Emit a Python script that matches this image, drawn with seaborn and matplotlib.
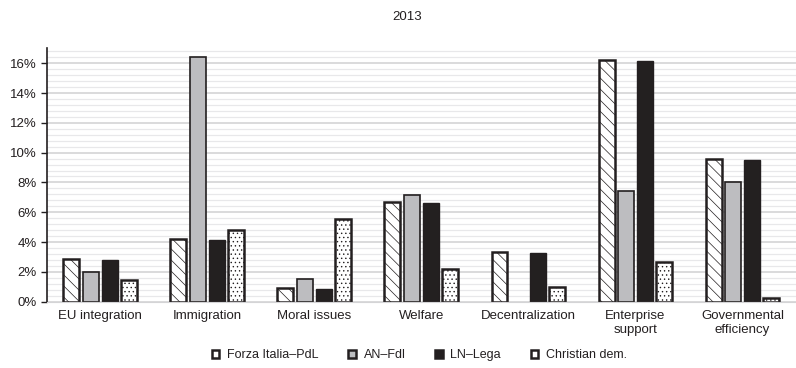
import matplotlib
matplotlib.use("Agg")
import matplotlib.pyplot as plt
import seaborn as sns
import pandas as pd
import numpy as np
from matplotlib.ticker import MultipleLocator, PercentFormatter
from matplotlib.patches import Patch

categories = ["EU integration", "Immigration", "Moral issues", "Welfare",
              "Decentralization", "Enterprise\nsupport", "Governmental\nefficiency"]
parties = ["Forza Italia–PdL", "AN–Fdl", "LN–Lega", "Christian dem."]
forza_italia = [2.86, 4.2, 0.92, 6.66, 3.33, 16.2, 9.54]
an_fdl = [1.97, 16.42, 1.52, 7.17, 0.0, 7.42, 8.02]
ln_lega = [2.82, 4.17, 0.88, 6.62, 3.29, 16.15, 9.5]
christian_dem = [1.45, 4.8, 5.52, 2.17, 1.0, 2.64, 0.23]
title = "2013"

sns.set_style("white")
plt.rcParams["font.family"] = ["Liberation Sans", "DejaVu Sans"]
plt.rcParams["hatch.linewidth"] = 0.5

rows = []
for p, vals in zip(parties, [forza_italia, an_fdl, ln_lega, christian_dem]):
    for c, v in zip(categories, vals):
        rows.append({"cat": c, "party": p, "val": v})
df = pd.DataFrame(rows)

fills = {"Forza Italia–PdL": "white", "AN–Fdl": "#bcbdc0",
         "LN–Lega": "#231f20", "Christian dem.": "white"}
hatches = {"Forza Italia–PdL": "\\\\\\", "AN–Fdl": "",
           "LN–Lega": "", "Christian dem.": "...."}
widths = {"Forza Italia–PdL": 1.8, "AN–Fdl": 1.2,
          "LN–Lega": 1.0, "Christian dem.": 1.8}
edge = "#231f20"

fig = plt.figure(figsize=(7.96, 3.68), dpi=100)
ax = fig.add_axes([0.0587, 0.1802, 0.9413, 0.6886])

sns.barplot(data=df, x="cat", y="val", hue="party", order=categories,
            hue_order=parties, palette=fills, width=0.72, gap=0.17,
            edgecolor=edge, linewidth=1.4, legend=False, ax=ax)

for container, p in zip(ax.containers, parties):
    for bar in container:
        bar.set_hatch(hatches[p])
        bar.set_edgecolor(edge)
        bar.set_linewidth(widths[p])
        if bar.get_height() == 0:
            bar.set_visible(False)

ax.set_ylim(0, 17)
ax.set_xlim(-0.5, 6.5)
ax.yaxis.set_major_locator(MultipleLocator(2))
ax.yaxis.set_minor_locator(MultipleLocator(0.4))
ax.yaxis.set_major_formatter(PercentFormatter(decimals=0))
ax.grid(axis="y", which="major", color="#d4d4d6", linewidth=1.2, zorder=0)
ax.grid(axis="y", which="minor", color="#e8e8ea", linewidth=0.9, zorder=0)
ax.set_axisbelow(True)

for s in ["top", "right"]:
    ax.spines[s].set_visible(False)
ax.spines["bottom"].set_color("#d4d4d6")
ax.spines["left"].set_color("#231f20")
ax.spines["left"].set_linewidth(1.2)
ax.tick_params(axis="y", which="major", left=True, length=4, width=1,
               color="#231f20", labelsize=9.5, labelcolor="#231f20", pad=3)
ax.tick_params(axis="y", which="minor", left=False)
ax.tick_params(axis="x", length=0, labelsize=9.5, labelcolor="#231f20", pad=6)
ax.set_xlabel("")
ax.set_ylabel("")

fig.text(0.512, 0.953, title, ha="center", va="center", fontsize=9.5, color="#231f20")

handles = [Patch(facecolor=fills[p], edgecolor=edge, linewidth=1.8) for p in parties]
fig.legend(handles, parties, loc="center", bbox_to_anchor=(0.527, 0.035), ncol=4,
           frameon=False, fontsize=9, handlelength=0.6, handleheight=0.6,
           handletextpad=0.6, columnspacing=2.4, labelcolor="#231f20")

fig.savefig("out.png", dpi=100)
